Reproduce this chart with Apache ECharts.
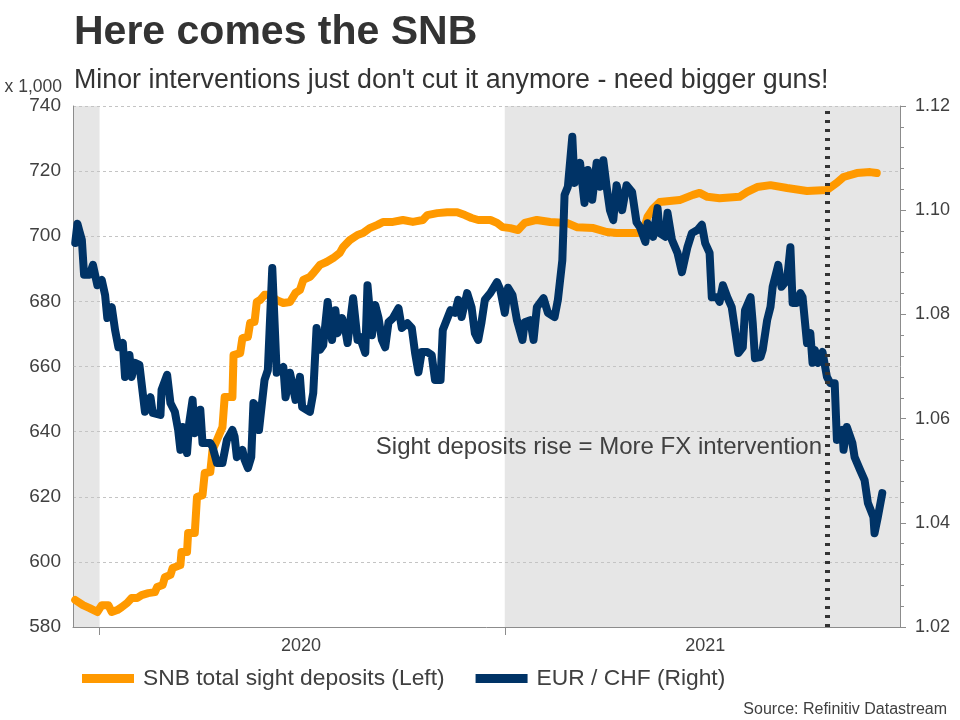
<!DOCTYPE html>
<html>
<head>
<meta charset="utf-8">
<title>Here comes the SNB</title>
<script src="https://cdn.jsdelivr.net/npm/echarts@6/dist/echarts.min.js"></script>
<style>
  html, body { margin: 0; padding: 0; background: #fff; }
  #chart { width: 960px; height: 720px; }
</style>
</head>
<body>
<div id="chart"></div>
<script>
// SNB total sight deposits, CHF bn (x 1,000 mn), left axis
var snbDates = [
  '2019-12-10','2019-12-17','2019-12-23','2019-12-30',
  '2020-01-03','2020-01-09','2020-01-12','2020-01-17','2020-01-21','2020-01-26','2020-01-30',
  '2020-02-04','2020-02-08','2020-02-14','2020-02-20','2020-02-22','2020-02-27','2020-02-29',
  '2020-03-05','2020-03-07','2020-03-14','2020-03-15','2020-03-20','2020-03-21','2020-03-27','2020-03-29',
  '2020-04-03','2020-04-05','2020-04-10','2020-04-12','2020-04-16','2020-04-21','2020-04-23','2020-04-30',
  '2020-05-01','2020-05-07','2020-05-09','2020-05-14','2020-05-16','2020-05-20','2020-05-22','2020-05-25','2020-05-29',
  '2020-06-03','2020-06-09','2020-06-15','2020-06-21','2020-06-26','2020-06-30',
  '2020-07-03','2020-07-09','2020-07-12','2020-07-18','2020-07-24','2020-07-30',
  '2020-08-05','2020-08-08','2020-08-14','2020-08-21','2020-08-26',
  '2020-09-01','2020-09-08','2020-09-13','2020-09-22',
  '2020-10-01','2020-10-10','2020-10-19','2020-10-23',
  '2020-11-01','2020-11-10','2020-11-19','2020-11-26',
  '2020-12-02','2020-12-08','2020-12-19','2020-12-25','2020-12-30',
  '2021-01-06','2021-01-13','2021-01-19','2021-01-30',
  '2021-02-11','2021-02-26','2021-03-07','2021-03-22',
  '2021-04-03','2021-04-12','2021-04-30','2021-05-06','2021-05-10','2021-05-15','2021-05-21',
  '2021-06-08','2021-06-20','2021-06-26','2021-07-03','2021-07-14',
  '2021-08-01','2021-08-08','2021-08-17','2021-08-29','2021-09-13',
  '2021-10-01','2021-10-19','2021-10-28','2021-11-03','2021-11-15','2021-11-27','2021-12-03'
];
var snbValues = [
  588.3, 586.7, 585.8, 584.6,
  586.7, 586.7, 584.6, 585.2, 586.1, 587.4, 588.9,
  588.9, 589.8, 590.4, 590.7, 592.3, 592.9, 595.3,
  596.0, 598.1, 599.0, 603.0, 603.0, 608.9, 608.9, 619.9,
  620.5, 627.3, 627.6, 634.3, 637.4, 641.4, 650.6, 650.6,
  663.5, 664.1, 668.7, 669.1, 673.4, 673.7, 679.8, 680.4, 682.0,
  682.0, 680.4, 679.5, 679.8, 682.6, 683.5,
  686.6, 687.5, 688.7, 691.2, 692.1, 693.3,
  694.9, 696.7, 698.8, 700.4, 701.0,
  702.5, 703.5, 704.4, 704.4,
  705.0, 704.4, 705.0, 706.5,
  707.1, 707.4, 707.4, 706.5,
  705.6, 705.0, 705.0, 704.1, 702.8,
  702.5, 701.9, 704.1, 705.0,
  704.4, 704.1, 702.8, 702.5,
  701.3, 701.0, 701.0, 701.3, 706.0, 708.5, 710.5,
  711.1, 712.7, 713.3, 712.1, 711.7,
  712.1, 713.6, 715.1, 715.7, 714.8,
  713.9, 714.2, 716.4, 718.2, 719.4, 719.7, 719.4
];

// EUR/CHF, right axis
var fxDates = [
  '2019-12-10','2019-12-12','2019-12-14','2019-12-16','2019-12-18','2019-12-23','2019-12-26','2019-12-30',
  '2020-01-03','2020-01-06','2020-01-08','2020-01-12','2020-01-15','2020-01-18','2020-01-22','2020-01-24','2020-01-28','2020-01-30',
  '2020-02-02','2020-02-06','2020-02-11','2020-02-16','2020-02-18','2020-02-25','2020-02-26',
  '2020-03-02','2020-03-05','2020-03-09','2020-03-12','2020-03-14','2020-03-16','2020-03-20','2020-03-22','2020-03-25','2020-03-27',
  '2020-04-01','2020-04-03','2020-04-10','2020-04-12','2020-04-16','2020-04-21','2020-04-25','2020-04-30',
  '2020-05-02','2020-05-04','2020-05-09','2020-05-11','2020-05-14','2020-05-17','2020-05-19','2020-05-22','2020-05-24','2020-05-27','2020-05-29',
  '2020-06-01','2020-06-05','2020-06-09','2020-06-15','2020-06-17','2020-06-21','2020-06-26','2020-06-30',
  '2020-07-02','2020-07-09','2020-07-12','2020-07-15','2020-07-18','2020-07-21','2020-07-25','2020-07-29',
  '2020-08-01','2020-08-03','2020-08-07','2020-08-10','2020-08-12','2020-08-17','2020-08-21','2020-08-23','2020-08-28','2020-08-30',
  '2020-09-03','2020-09-06','2020-09-09','2020-09-12','2020-09-15','2020-09-18','2020-09-22','2020-09-27','2020-09-30',
  '2020-10-05','2020-10-09','2020-10-12','2020-10-15','2020-10-18','2020-10-23','2020-10-27','2020-10-30',
  '2020-11-04','2020-11-06','2020-11-13','2020-11-17','2020-11-20','2020-11-23','2020-11-28',
  '2020-12-02','2020-12-05','2020-12-08','2020-12-11','2020-12-14','2020-12-19','2020-12-25','2020-12-28',
  '2021-01-01','2021-01-04','2021-01-08','2021-01-12','2021-01-17','2021-01-19','2021-01-24','2021-01-27','2021-01-30',
  '2021-02-05','2021-02-09','2021-02-15','2021-02-18','2021-02-22','2021-02-24','2021-02-27',
  '2021-03-03','2021-03-05','2021-03-10','2021-03-14','2021-03-17','2021-03-21','2021-03-25','2021-03-28','2021-03-31',
  '2021-04-03','2021-04-06','2021-04-09','2021-04-12','2021-04-17','2021-04-21','2021-04-26','2021-04-30',
  '2021-05-03','2021-05-08','2021-05-10','2021-05-15','2021-05-19','2021-05-21','2021-05-26','2021-05-28',
  '2021-06-01','2021-06-06','2021-06-10','2021-06-15','2021-06-19','2021-06-24','2021-06-28',
  '2021-07-01','2021-07-05','2021-07-07','2021-07-12','2021-07-14','2021-07-17','2021-07-21','2021-07-25','2021-07-28','2021-07-31',
  '2021-08-04','2021-08-06','2021-08-11','2021-08-13','2021-08-15','2021-08-20','2021-08-22','2021-08-26','2021-08-29','2021-08-31',
  '2021-09-05','2021-09-08','2021-09-13','2021-09-16','2021-09-18','2021-09-22','2021-09-25','2021-09-27',
  '2021-10-01','2021-10-04','2021-10-06','2021-10-08','2021-10-11','2021-10-15','2021-10-19','2021-10-22','2021-10-26','2021-10-28',
  '2021-11-02','2021-11-03','2021-11-06','2021-11-11','2021-11-13','2021-11-18','2021-11-22','2021-11-25','2021-11-30',
  '2021-12-01','2021-12-04','2021-12-08'
];
var fxValues = [
  1.0937, 1.0974, 1.0958, 1.0943, 1.0876, 1.0876, 1.0895, 1.0856,
  1.0866, 1.0837, 1.0793, 1.0814, 1.0770, 1.0737, 1.0745, 1.0680, 1.0722, 1.0680,
  1.0707, 1.0703, 1.0613, 1.0641, 1.0611, 1.0607, 1.0655,
  1.0684, 1.0630, 1.0613, 1.0578, 1.0540, 1.0584, 1.0534, 1.0592, 1.0636, 1.0572,
  1.0617, 1.0553, 1.0553, 1.0546, 1.0515, 1.0515, 1.0559, 1.0578,
  1.0565, 1.0526, 1.0540, 1.0521, 1.0505, 1.0526, 1.0630, 1.0622, 1.0578, 1.0636, 1.0674,
  1.0693, 1.0889, 1.0688, 1.0699, 1.0641, 1.0688, 1.0636, 1.0680,
  1.0622, 1.0613, 1.0649, 1.0774, 1.0732, 1.0741, 1.0824, 1.0751,
  1.0808, 1.0764, 1.0793, 1.0770, 1.0745, 1.0831, 1.0751, 1.0757, 1.0726, 1.0856,
  1.0760, 1.0818, 1.0793, 1.0751, 1.0737, 1.0785, 1.0793, 1.0812, 1.0774,
  1.0783, 1.0774, 1.0726, 1.0689, 1.0728, 1.0728, 1.0722, 1.0674,
  1.0674, 1.0770, 1.0808, 1.0803, 1.0828, 1.0795, 1.0841,
  1.0814, 1.0764, 1.0751, 1.0785, 1.0828, 1.0841, 1.0862, 1.0847,
  1.0803, 1.0851, 1.0837, 1.0789, 1.0751, 1.0785, 1.0789, 1.0751, 1.0814,
  1.0831, 1.0803, 1.0795, 1.0828, 1.0904, 1.1029, 1.1045,
  1.1141, 1.1052, 1.1091, 1.1014, 1.1077, 1.1020, 1.1091, 1.1045, 1.1096,
  1.1045, 1.1000, 1.0981, 1.1048, 1.1000, 1.1048, 1.1035, 1.0977,
  1.0968, 1.0939, 1.0975, 1.0949, 1.1004, 1.0956, 1.0949, 1.0995,
  1.0943, 1.0918, 1.0881, 1.0929, 1.0956, 1.0962, 1.0972,
  1.0937, 1.0918, 1.0833, 1.0833, 1.0824, 1.0856, 1.0833, 1.0814, 1.0770, 1.0726,
  1.0737, 1.0808, 1.0833, 1.0783, 1.0716, 1.0718, 1.0732, 1.0789, 1.0814, 1.0853,
  1.0895, 1.0853, 1.0866, 1.0929, 1.0822, 1.0822, 1.0841, 1.0833,
  1.0745, 1.0764, 1.0707, 1.0732, 1.0707, 1.0728, 1.0680, 1.0668, 1.0668, 1.0559,
  1.0578, 1.0540, 1.0584, 1.0553, 1.0526, 1.0501, 1.0482, 1.0438, 1.0411,
  1.0380, 1.0411, 1.0457
];

var xRange = ['2019-12-08', '2021-12-24'];
var yearStarts = ['2020-01-01', '2021-01-01'];
var yearLabelDates = ['2020-07-01', '2021-07-01'];
var shadedYears = [['2019-12-08', '2020-01-01'], ['2021-01-01', '2021-12-24']];
var markerDate = '2021-10-19';

var leftTicks = { min: 580, max: 740, interval: 20 };
var rightTicks = { min: 1.02, max: 1.12, interval: 0.02 };

var snbName = 'SNB total sight deposits (Left)';
var fxName = 'EUR / CHF (Right)';
var note = 'Sight deposits rise = More FX intervention';

var ORANGE = '#ff9900';
var NAVY = '#003366';
var TEXT = '#404040';
var AXIS = '#8c8c8c';
var FONT = 'Liberation Sans, Arial, sans-serif';

// dates become plain timestamps on a value axis
function t(s) {
  var p = s.split('-');
  return Date.UTC(+p[0], +p[1] - 1, +p[2]);
}
function pairs(dates, values) {
  return dates.map(function (d, i) { return [t(d), values[i]]; });
}

var chart = echarts.init(document.getElementById('chart'), null, { renderer: 'canvas' });

var option = {
  animation: false,
  backgroundColor: '#fff',
  textStyle: { fontFamily: FONT },
  title: [
    {
      text: 'Here comes the SNB',
      left: 69, top: 7,
      textStyle: { fontSize: 41, fontWeight: 'bold', color: '#333', fontFamily: FONT }
    },
    {
      text: "Minor interventions just don't cut it anymore - need bigger guns!",
      left: 69, top: 62,
      textStyle: { fontSize: 26.8, fontWeight: 'normal', color: '#333', fontFamily: FONT }
    },
    {
      text: 'Source: Refinitiv Datastream',
      right: 8, top: 697,
      textStyle: { fontSize: 16, fontWeight: 'normal', color: TEXT, fontFamily: FONT }
    }
  ],
  legend: {
    top: 662, left: 77,
    itemWidth: 52, itemHeight: 9, itemGap: 31,
    icon: 'rect',
    data: [snbName, fxName],
    textStyle: { fontSize: 22.8, color: TEXT, fontFamily: FONT, padding: [0, 0, 0, 4] }
  },
  grid: { left: 73, right: 60, top: 106, bottom: 93 },
  xAxis: {
    type: 'value',
    z: 1.5,
    min: t(xRange[0]), max: t(xRange[1]),
    axisLine: { show: true, onZero: false, lineStyle: { color: AXIS, width: 1 } },
    axisTick: {
      show: true, length: 8, lineStyle: { color: AXIS },
      customValues: yearStarts.map(t)
    },
    axisLabel: {
      show: true, fontSize: 18, color: TEXT, margin: 10, fontFamily: FONT,
      customValues: yearLabelDates.map(t),
      formatter: function (v) { return String(new Date(v).getUTCFullYear()); }
    },
    splitLine: { show: false }
  },
  yAxis: [
    {
      type: 'value',
      z: 1.5,
      position: 'left',
      min: leftTicks.min, max: leftTicks.max, interval: leftTicks.interval,
      name: 'x 1,000',
      nameLocation: 'end',
      nameGap: 7,
      nameTextStyle: { fontSize: 17.5, color: TEXT, align: 'right', padding: [0, 11, 0, 0], fontFamily: FONT },
      axisLine: { show: true, lineStyle: { color: AXIS } },
      axisTick: { show: false },
      axisLabel: { fontSize: 19, color: TEXT, margin: 12, fontFamily: FONT },
      splitLine: { show: true, lineStyle: { color: '#c4c4c4', type: [3, 3], width: 1 } }
    },
    {
      type: 'value',
      z: 1.5,
      position: 'right',
      min: rightTicks.min, max: rightTicks.max, interval: rightTicks.interval,
      axisLine: { show: true, lineStyle: { color: AXIS } },
      axisTick: { show: true, length: 6, lineStyle: { color: AXIS } },
      minorTick: { show: true, splitNumber: 5, length: 4, lineStyle: { color: AXIS } },
      axisLabel: { fontSize: 18, color: TEXT, margin: 15, fontFamily: FONT,
        formatter: function (v) { return v.toFixed(2); } },
      splitLine: { show: false }
    }
  ],
  graphic: [
    {
      type: 'text',
      z: 10,
      right: 138, top: 435,
      style: { text: note, fontSize: 24, fill: TEXT, fontFamily: FONT }
    }
  ],
  series: [
    {
      name: 'bands',
      type: 'line',
      z: 1,
      data: [],
      silent: true,
      markArea: {
        silent: true,
        itemStyle: { color: '#e6e6e6' },
        data: shadedYears.map(function (p) { return [{ xAxis: t(p[0]) }, { xAxis: t(p[1]) }]; })
      },
      markLine: {
        silent: true,
        symbol: ['none', 'none'],
        label: { show: false },
        lineStyle: { color: '#333', width: 5, type: [3, 6] },
        data: [{ xAxis: t(markerDate) }]
      }
    },
    {
      name: snbName,
      type: 'line',
      yAxisIndex: 0,
      z: 2,
      showSymbol: false,
      color: ORANGE,
      lineStyle: { color: ORANGE, width: 8, cap: 'round', join: 'round' },
      data: pairs(snbDates, snbValues)
    },
    {
      name: fxName,
      type: 'line',
      yAxisIndex: 1,
      z: 3,
      showSymbol: false,
      color: NAVY,
      lineStyle: { color: NAVY, width: 8, cap: 'round', join: 'round' },
      data: pairs(fxDates, fxValues)
    }
  ]
};

chart.setOption(option);
</script>
</body>
</html>
